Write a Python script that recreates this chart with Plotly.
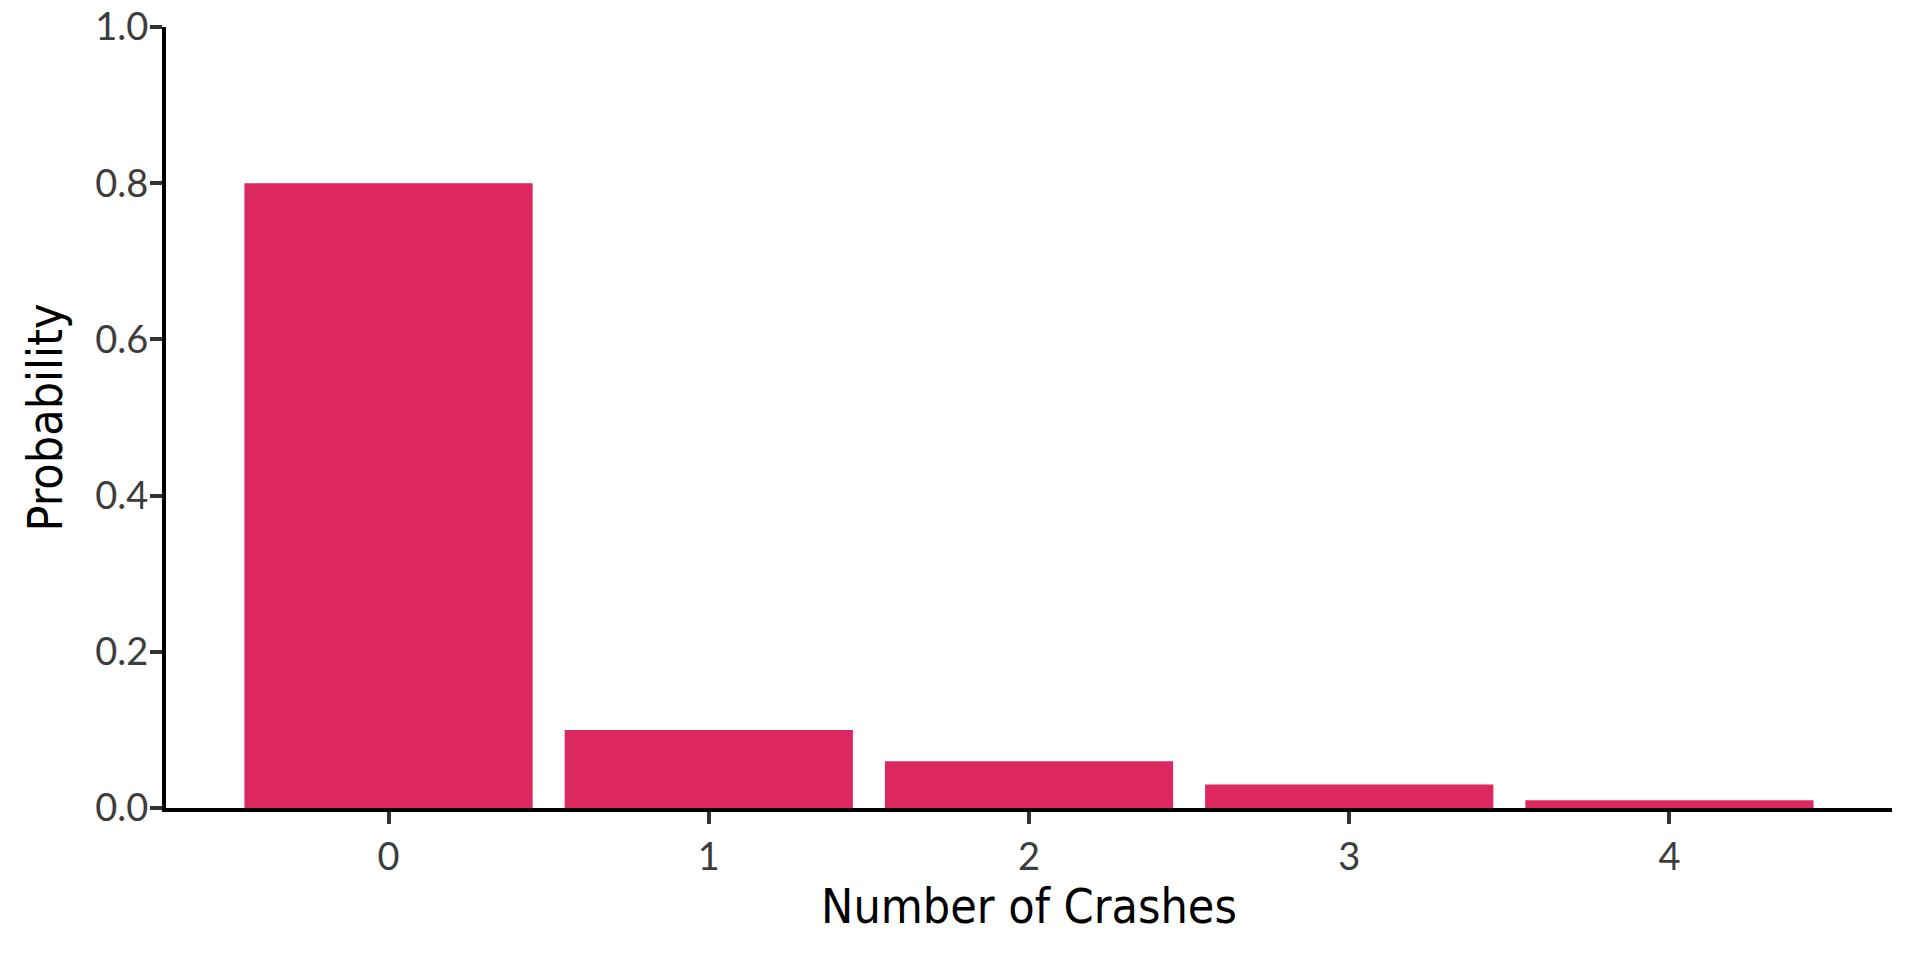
import plotly.graph_objects as go

crashes = ["0", "1", "2", "3", "4"]
probability = [0.80, 0.10, 0.06, 0.03, 0.01]
y_ticks = [0.0, 0.2, 0.4, 0.6, 0.8, 1.0]
y_tick_labels = ["0.0", "0.2", "0.4", "0.6", "0.8", "1.0"]

BAR_COLOR = "#DD2760"
FONT = "DejaVu Sans Condensed, Lato"
TICK_FONT = "Lato"

fig = go.Figure(
    go.Bar(
        x=list(range(len(crashes))),
        y=probability,
        marker=dict(color=BAR_COLOR, line=dict(width=0)),
        width=0.9,
        hoverinfo="x+y",
    )
)

fig.update_layout(
    width=1920,
    height=960,
    paper_bgcolor="white",
    plot_bgcolor="white",
    margin=dict(l=166, r=28, t=27, b=152),
    showlegend=False,
    font=dict(family=TICK_FONT, color="#3a3a3a"),
)

fig.update_xaxes(
    tickmode="array",
    tickvals=list(range(len(crashes))),
    ticktext=crashes,
    range=[-0.695, 4.695],
    automargin=False,
    showgrid=False,
    zeroline=False,
    showline=True,
    linecolor="black",
    linewidth=4,
    ticks="outside",
    ticklen=12,
    tickwidth=4,
    tickcolor="#333333",
    ticklabeloverflow="allow",
    tickfont=dict(size=38, color="#3d3d3d", family=TICK_FONT),
    title=dict(text="Number of Crashes", font=dict(size=48, color="black", family=FONT), standoff=14),
)

fig.update_yaxes(
    tickmode="array",
    tickvals=y_ticks,
    ticktext=y_tick_labels,
    range=[0, 1.0],
    automargin=False,
    showgrid=False,
    zeroline=False,
    showline=True,
    linecolor="black",
    linewidth=4,
    ticks="outside",
    ticklen=12,
    tickwidth=4,
    tickcolor="#333333",
    ticklabelstandoff=-6,
    ticklabeloverflow="allow",
    tickfont=dict(size=38, color="#3d3d3d", family=TICK_FONT),
    title=dict(text="Probability", font=dict(size=48, color="black", family=FONT), standoff=19),
)

# remove the browser's default 8px body margin so the 1920x960 figure fills the window
fig.write_html(
    "out.html",
    config={"displayModeBar": False},
    post_script="document.body.style.margin='0';",
)
